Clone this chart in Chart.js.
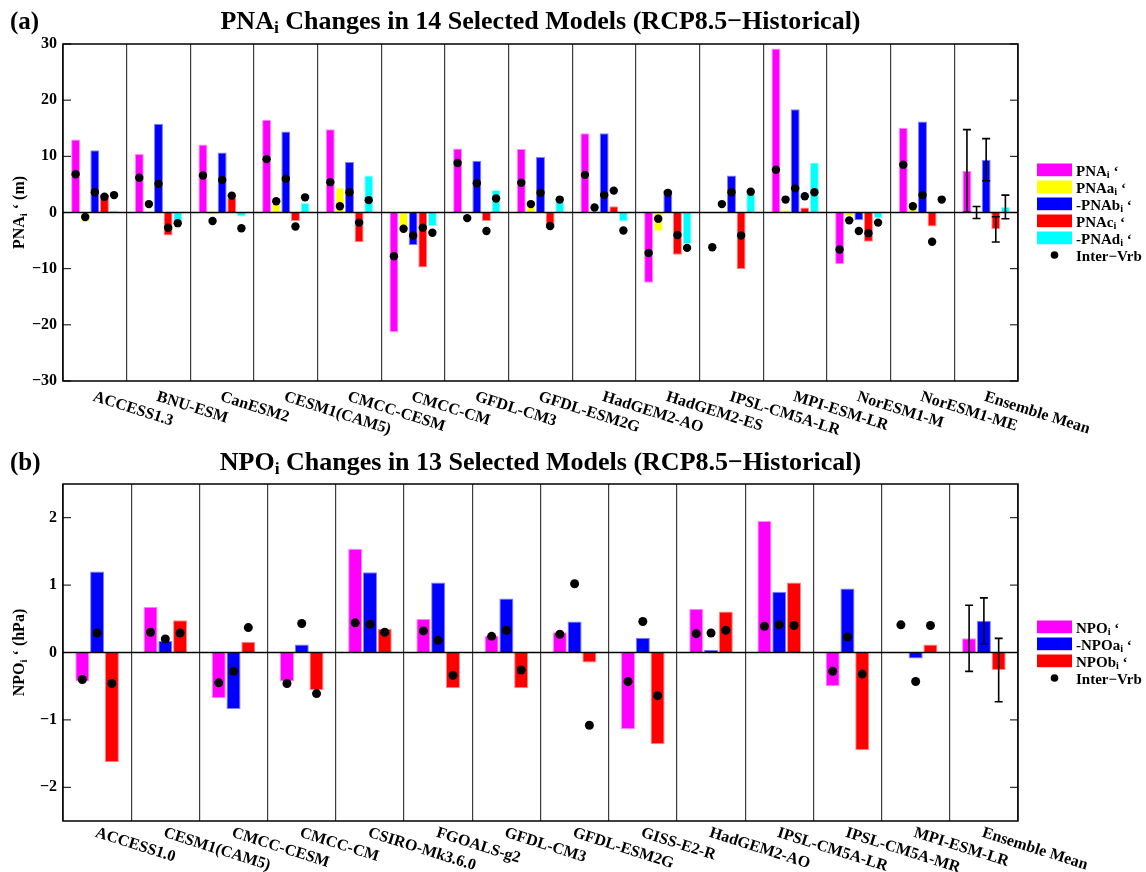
<!DOCTYPE html>
<html>
<head>
<meta charset="utf-8">
<script src="https://cdn.jsdelivr.net/npm/chart.js@4.4.0/dist/chart.umd.min.js"></script>
<style>
  body { margin: 0; background: #fff; }
  .wrap { position: relative; width: 1146px; height: 872px; overflow: hidden; }
  canvas { display: block; position: absolute; left: 0; }
  #chartA { top: 0; }
  #chartB { top: 436px; }
</style>
</head>
<body>
<div class="wrap">
  <canvas id="chartA" width="1146" height="456"></canvas>
  <canvas id="chartB" width="1146" height="436"></canvas>
</div>
<script>
// ---- panel (a): PNA ----
const modelsA = ["ACCESS1.3", "BNU-ESM", "CanESM2", "CESM1(CAM5)", "CMCC-CESM", "CMCC-CM",
  "GFDL-CM3", "GFDL-ESM2G", "HadGEM2-AO", "HadGEM2-ES", "IPSL-CM5A-LR", "MPI-ESM-LR",
  "NorESM1-M", "NorESM1-ME", "Ensemble Mean"];
const pnaI  = [13.0, 10.4, 12.1, 16.5, 14.8, -21.3, 11.4, 11.3, 14.1, -12.5, 0.0, 29.2, -9.2, 15.1, 7.4];
const pnaA  = [-1.7, 0.2, -0.4, 1.8, 4.4, -2.5, -0.2, 1.7, 0.2, -3.3, 0.0, 0.5, -0.7, 0.9, 0.0];
const pnaB  = [11.1, 15.8, 10.7, 14.4, 9.0, -5.8, 9.2, 9.9, 14.1, 3.9, 6.6, 18.4, -1.4, 16.2, 9.4];
const pnaC  = [3.2, -4.1, 2.6, -1.5, -5.3, -9.8, -1.5, -2.7, 1.1, -7.5, -10.1, 0.9, -5.2, -2.5, -3.0];
const pnaD  = [0.35, -1.5, -0.7, 1.7, 6.6, -2.4, 4.0, 2.5, -1.6, -5.6, 3.3, 8.9, -1.0, 0.1, 1.0];
// inter-model variability dots (none for the ensemble mean)
const vrbI = [6.8, 6.2, 6.6, 9.5, 5.4, -7.8, 8.8, 5.3, 6.7, -7.2, -6.2, 7.6, -6.6, 8.5, null];
const vrbA = [-0.8, 1.5, -1.5, 2.0, 1.1, -2.9, -1.0, 1.5, 0.9, -1.1, 1.5, 2.3, -1.4, 1.1, null];
const vrbB = [3.6, 5.1, 5.8, 6.0, 3.6, -4.1, 5.2, 3.5, 3.1, 3.5, 3.6, 4.3, -3.3, 3.1, null];
const vrbC = [2.8, -2.7, 3.0, -2.5, -1.8, -2.7, -3.3, -2.4, 3.9, -4.0, -4.1, 2.9, -3.7, -5.2, null];
const vrbD = [3.1, -1.9, -2.8, 2.7, 2.2, -3.6, 2.5, 2.3, -3.2, -6.3, 3.7, 3.6, -1.8, 2.3, null];
// ensemble spread (error bars on the last group)
const ensErrA = [7.35, 1.07, 3.75, 2.25, 2.1];
const ticksA = [-30, -20, -10, 0, 10, 20, 30];

// ---- panel (b): NPO ----
const modelsB = ["ACCESS1.0", "CESM1(CAM5)", "CMCC-CESM", "CMCC-CM", "CSIRO-Mk3.6.0", "FGOALS-g2",
  "GFDL-CM3", "GFDL-ESM2G", "GISS-E2-R", "HadGEM2-AO", "IPSL-CM5A-LR", "IPSL-CM5A-MR",
  "MPI-ESM-LR", "Ensemble Mean"];
const npoI = [-0.43, 0.68, -0.68, -0.43, 1.54, 0.50, 0.25, 0.30, -1.14, 0.65, 1.95, -0.50, 0.0, 0.21];
const npoA = [1.20, 0.17, -0.84, 0.12, 1.19, 1.04, 0.80, 0.46, 0.22, 0.04, 0.90, 0.95, -0.09, 0.47];
const npoB = [-1.63, 0.48, 0.16, -0.56, 0.35, -0.53, -0.53, -0.15, -1.36, 0.61, 1.04, -1.45, 0.12, -0.26];
const vrbNI = [-0.40, 0.30, -0.45, -0.46, 0.44, 0.32, 0.24, 0.27, -0.43, 0.28, 0.39, -0.28, 0.41, null];
const vrbNA = [0.29, 0.20, -0.28, 0.43, 0.42, 0.18, 0.33, 1.02, 0.46, 0.29, 0.41, 0.23, -0.43, null];
const vrbNB = [-0.46, 0.29, 0.37, -0.61, 0.30, -0.34, -0.26, -1.08, -0.64, 0.33, 0.40, -0.32, 0.40, null];
const ensErrB = [0.49, 0.34, 0.47];
const ticksB = [-2, -1, 0, 1, 2];

const FONT = "'Liberation Serif', 'DejaVu Serif', serif";
const PINK = "#ff00ff", YELLOW = "#ffff00", BLUE = "#0000ff", RED = "#ff0000", CYAN = "#00ffff";

function fontStr(size) { return "bold " + size + "px " + FONT; }

// "PNA_i" -> PNA with subscript i
function richParts(str) { return str.split(/_(\w)/); }
function richWidth(ctx, str, size) {
  let w = 0;
  richParts(str).forEach((t, k) => { ctx.font = fontStr(k % 2 ? size * 0.68 : size); w += ctx.measureText(t).width; });
  return w;
}
function drawRich(ctx, str, x, y, size, align) {
  let cx = align === "center" ? x - richWidth(ctx, str, size) / 2 : x;
  ctx.textAlign = "left";
  ctx.textBaseline = "alphabetic";
  richParts(str).forEach((t, k) => {
    const sub = k % 2 === 1;
    ctx.font = fontStr(sub ? size * 0.68 : size);
    ctx.fillText(t, cx, sub ? y + size * 0.16 : y);
    cx += ctx.measureText(t).width;
  });
}

// titles, axis label, rotated x labels, legend, zero line, dots, error bars, frame
const panelDecor = {
  id: "panelDecor",
  afterDatasetsDraw(chart, args, o) {
    const ctx = chart.ctx, a = chart.chartArea, y = chart.scales.y;
    const last = o.models.length - 1;
    ctx.save();
    ctx.strokeStyle = "#000";
    ctx.fillStyle = "#000";
    // zero line
    const y0 = y.getPixelForValue(0);
    ctx.lineWidth = 1.5;
    ctx.beginPath();
    ctx.moveTo(a.left, y0); ctx.lineTo(a.right, y0);
    ctx.stroke();
    o.series.forEach((s, k) => {
      const bars = chart.getDatasetMeta(k).data;
      // inter-model variability dots at each bar's centre
      s.dots.forEach((v, i) => {
        if (v === null) return;
        ctx.beginPath();
        ctx.arc(bars[i].x, y.getPixelForValue(v), o.dotR, 0, Math.PI * 2);
        ctx.fill();
      });
      // error bar on the ensemble mean
      const bx = bars[last].x, v = s.values[last], e = o.ensErr[k];
      const y1 = y.getPixelForValue(v + e), y2 = y.getPixelForValue(v - e);
      ctx.lineWidth = 1.6;
      ctx.beginPath();
      ctx.moveTo(bx, y1); ctx.lineTo(bx, y2);
      ctx.moveTo(bx - 4, y1); ctx.lineTo(bx + 4, y1);
      ctx.moveTo(bx - 4, y2); ctx.lineTo(bx + 4, y2);
      ctx.stroke();
    });
    // inward ticks on both sides
    ctx.lineWidth = 1;
    y.ticks.forEach(t => {
      const py = y.getPixelForValue(t.value);
      ctx.beginPath();
      ctx.moveTo(a.left, py); ctx.lineTo(a.left + 8, py);
      ctx.moveTo(a.right, py); ctx.lineTo(a.right - 8, py);
      ctx.stroke();
    });
    // frame
    ctx.lineWidth = 1.5;
    ctx.strokeRect(a.left, a.top, a.right - a.left, a.bottom - a.top);
    ctx.restore();
  },
  afterDraw(chart, args, o) {
    const ctx = chart.ctx, a = chart.chartArea, x = chart.scales.x;
    ctx.save();
    ctx.fillStyle = "#000";
    // panel letter and title
    ctx.font = fontStr(25);
    ctx.textAlign = "left";
    ctx.textBaseline = "alphabetic";
    ctx.fillText(o.letter, 10, o.titleY);
    drawRich(ctx, o.title, (a.left + a.right) / 2, o.titleY, 26, "center");
    // y axis label
    ctx.save();
    ctx.translate(24, (a.top + a.bottom) / 2);
    ctx.rotate(-Math.PI / 2);
    drawRich(ctx, o.yLabel, 0, 0, 16, "center");
    ctx.restore();
    // rotated category labels
    ctx.font = fontStr(16);
    ctx.textAlign = "left";
    ctx.textBaseline = "top";
    o.models.forEach((m, i) => {
      ctx.save();
      ctx.translate(x.getPixelForValue(i) + 1, a.bottom + o.labelDy);
      ctx.rotate(17.5 * Math.PI / 180);
      ctx.fillText(m, 0, 0);
      ctx.restore();
    });
    // legend
    const rows = o.series.length + 1, rowH = 17;
    let top = (a.top + a.bottom) / 2 - rows * rowH / 2;
    o.series.forEach(s => {
      ctx.fillStyle = s.color;
      ctx.fillRect(1037, top + 2, 35, 12.7);
      ctx.fillStyle = "#000";
      drawRich(ctx, s.label, 1076, top + 14, 15, "left");
      top += rowH;
    });
    ctx.beginPath();
    ctx.arc(1054.5, top + 8.5, 3.8, 0, Math.PI * 2);
    ctx.fill();
    drawRich(ctx, "Inter\u2212Vrb", 1076, top + 14, 15, "left");
    ctx.restore();
  }
};

function makeChart(id, p) {
  const datasets = p.series.map(s => ({
    label: s.label, data: s.values,
    backgroundColor: s.color, borderColor: s.edge, borderWidth: 1,
    barPercentage: p.barPct, categoryPercentage: p.catPct
  }));
  return new Chart(document.getElementById(id), {
    type: "bar",
    data: { labels: p.models, datasets: datasets },
    options: {
      responsive: false,
      animation: false,
      devicePixelRatio: 1,
      layout: { padding: { left: 0, right: 128, top: p.top, bottom: p.bottom } },
      scales: {
        x: {
          type: "category", offset: true,
          grid: { offset: true, color: "#3c3c3c", lineWidth: 1.2, drawTicks: false },
          ticks: { display: false },
          border: { display: false },
          afterFit: s => { s.height = 0; }
        },
        y: {
          min: p.yMin, max: p.yMax,
          afterBuildTicks: s => { s.ticks = p.yTicks.map(v => ({ value: v })); },
          ticks: {
            color: "#000", padding: 6,
            font: { family: FONT, size: 16, weight: "bold" },
            callback: v => (v < 0 ? "\u2212" + Math.abs(v) : String(v))
          },
          grid: { display: false, drawTicks: false },
          border: { display: false },
          afterFit: s => { s.width = 63; }
        }
      },
      plugins: {
        legend: { display: false },
        tooltip: { enabled: false },
        panelDecor: {
          letter: p.letter, title: p.title, titleY: p.titleY, yLabel: p.yLabel,
          models: p.models, series: p.series, ensErr: p.ensErr,
          labelDy: p.labelDy, dotR: p.dotR
        }
      }
    },
    plugins: [panelDecor]
  });
}

makeChart("chartA", {
  letter: "(a)",
  title: "PNA_i Changes in 14 Selected Models (RCP8.5\u2212Historical)",
  titleY: 29,
  yLabel: "PNA_i \u2018 (m)",
  models: modelsA,
  series: [
    { label: "PNA_i \u2018", values: pnaI, dots: vrbI, color: PINK, edge: "#ff8cff" },
    { label: "PNAa_i \u2018", values: pnaA, dots: vrbA, color: YELLOW, edge: "#ffff9a" },
    { label: "-PNAb_i \u2018", values: pnaB, dots: vrbB, color: BLUE, edge: "#8080ff" },
    { label: "PNAc_i \u2018", values: pnaC, dots: vrbC, color: RED, edge: "#ff8a8a" },
    { label: "-PNAd_i \u2018", values: pnaD, dots: vrbD, color: CYAN, edge: "#9affff" }
  ],
  ensErr: ensErrA,
  yMin: -30, yMax: 30, yTicks: ticksA,
  catPct: 0.755, barPct: 0.93, dotR: 4.2,
  top: 44, bottom: 75, labelDy: 8
});

makeChart("chartB", {
  letter: "(b)",
  title: "NPO_i Changes in 13 Selected Models (RCP8.5\u2212Historical)",
  titleY: 34,
  yLabel: "NPO_i \u2018 (hPa)",
  models: modelsB,
  series: [
    { label: "NPO_i \u2018", values: npoI, dots: vrbNI, color: PINK, edge: "#ff8cff" },
    { label: "-NPOa_i \u2018", values: npoA, dots: vrbNA, color: BLUE, edge: "#8080ff" },
    { label: "NPOb_i \u2018", values: npoB, dots: vrbNB, color: RED, edge: "#ff8a8a" }
  ],
  ensErr: ensErrB,
  yMin: -2.5, yMax: 2.5, yTicks: ticksB,
  catPct: 0.65, barPct: 0.95, dotR: 4.5,
  top: 48, bottom: 51, labelDy: 4
});
</script>
</body>
</html>
